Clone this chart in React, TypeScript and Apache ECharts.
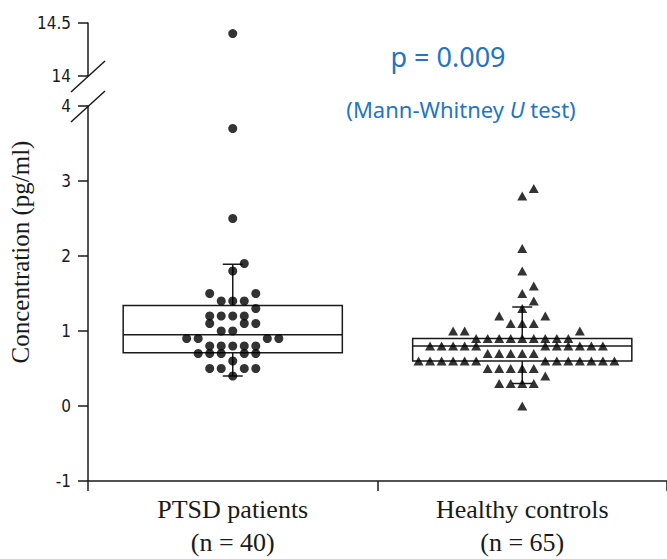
import React, { useEffect, useRef } from "react";
import * as echarts from "echarts";

// ---- data ----
const categories = ["PTSD patients", "Healthy controls"];
const groupSizes = ["(n = 40)", "(n = 65)"];

const ptsdValues = [
  14.4, 3.7, 2.5, 1.9, 1.8,
  1.5, 1.5,
  1.4, 1.4, 1.4,
  1.3,
  1.2, 1.2, 1.2, 1.2,
  1.1, 1.1, 1.1,
  1.0, 1.0,
  0.9, 0.9, 0.9, 0.9,
  0.8, 0.8, 0.8, 0.8, 0.8,
  0.7, 0.7, 0.7, 0.7, 0.7,
  0.6,
  0.5, 0.5, 0.5, 0.5,
  0.4,
];

const healthyValues = [
  2.9, 2.8, 2.1, 1.8, 1.6, 1.5, 1.4, 1.3,
  1.2, 1.2,
  1.1, 1.1, 1.1,
  1.0, 1.0, 1.0,
  0.9, 0.9, 0.9, 0.9, 0.9, 0.9, 0.9, 0.9, 0.9,
  0.8, 0.8, 0.8, 0.8, 0.8, 0.8, 0.8, 0.8, 0.8, 0.8, 0.8,
  0.7, 0.7, 0.7, 0.7, 0.7,
  0.6, 0.6, 0.6, 0.6, 0.6, 0.6, 0.6, 0.6, 0.6, 0.6, 0.6, 0.6, 0.6,
  0.5, 0.5, 0.5, 0.5, 0.5,
  0.4,
  0.3, 0.3, 0.3, 0.3,
  0.0,
];

// [lower whisker, Q1, median, Q3, upper whisker]
const ptsdBox = [0.4, 0.71, 0.95, 1.34, 1.89];
const healthyBox = [0.3, 0.6, 0.8, 0.9, 1.32];

const lowerTicks = { min: -1, max: 4, interval: 1 };
const upperTicks = { min: 14, max: 14.5, interval: 0.5 };
const pText = "p = 0.009";
const testText = "(Mann-Whitney {i|U} test)";
const yName = "Concentration (pg/ml)";

// ---- layout / style constants ----
const SLOT_W = 0.0398; // horizontal dot spacing in category units
const BOX_FRAC = 0.757;
const CAP_PX = 10;
const INK = "#1a1a1a";
const BLUE = "#2375C2";
const BREAK = lowerTicks.max;

// beeswarm-like placement of dots into rows of 0.1
function swarm(values: number[], cat: number): number[][] {
  const rows = new Map<number, number[]>();
  values.forEach((v) => {
    const k = Math.round(v * 10);
    if (!rows.has(k)) rows.set(k, []);
    rows.get(k)!.push(v);
  });
  const keys = Array.from(rows.keys()).sort((a, b) => a - b);
  const used = new Map<number, number[]>();
  const out: number[][] = [];
  const orderL = [0];
  const orderR = [0];
  for (let i = 1; i < 60; i++) {
    orderL.push(-i, i);
    orderR.push(i, -i);
  }
  for (const k of keys) {
    const vs = rows.get(k)!;
    const n = vs.length;
    const below = new Set(used.get(k - 1) || []);
    const greedy: number[] = [];
    for (const s of n === 1 ? orderR : orderL) {
      if (greedy.length === n) break;
      if (!below.has(s)) greedy.push(s);
    }
    greedy.sort((a, b) => a - b);
    const splits: number[] = [];
    for (let i = 1; i < greedy.length; i++) if (greedy[i] - greedy[i - 1] > 1) splits.push(i);
    let ok = splits.length === 0;
    if (splits.length === 1) {
      const j = splits[0];
      ok = greedy[j - 1] < 0 && greedy[j] > 0;
    }
    const centered = Array.from({ length: n }, (_, i) => i - Math.floor(n / 2));
    const slots = ok ? greedy : centered;
    used.set(k, slots);
    slots.forEach((s, i) => out.push([cat + 0.5 + s * SLOT_W, vs[i]]));
  }
  return out;
}

const ptsdPts = swarm(ptsdValues, 0);
const healthyPts = swarm(healthyValues, 1);

export default function App() {
  const ref = useRef<HTMLDivElement>(null);
  useEffect(() => {
    if (!ref.current) return;
    const chart = echarts.init(ref.current, null, { renderer: "svg" });
    const tickFont = {
      fontFamily: "'Liberation Sans Narrow', 'Arial Narrow', 'DejaVu Sans Condensed', 'Liberation Sans', sans-serif",
      fontSize: 17,
      color: INK,
    };
    const lineStyle = { color: INK, width: 1.5 };
    const gridBase = { left: 88, right: -7 };
    const option: any = {
      animation: false,
      grid: [
        { ...gridBase, top: 106, bottom: 78 },
        { ...gridBase, top: 23, bottom: 483 },
        { ...gridBase, top: 23, bottom: 78 },
      ],
      xAxis: [
        {
          gridIndex: 0,
          type: "value",
          min: 0,
          max: 2,
          splitLine: { show: false },
          axisLine: { show: true, onZero: false, lineStyle },
          axisTick: { show: true, customValues: [0, 1, 2], length: 10, lineStyle },
          axisLabel: {
            customValues: [0.5, 1.5],
            margin: 12,
            formatter: (v: number) => {
              const i = Math.floor(v);
              return categories[i] + "\n" + groupSizes[i];
            },
            fontFamily: "'Liberation Serif', 'Times New Roman', serif",
            fontSize: 26,
            lineHeight: 33,
            color: INK,
          },
        },
        { gridIndex: 1, type: "value", min: 0, max: 2, show: false },
        { gridIndex: 2, type: "value", min: 0, max: 2, show: false },
      ],
      yAxis: [
        {
          gridIndex: 0,
          type: "value",
          ...lowerTicks,
          splitLine: { show: false },
          axisLine: { show: true, onZero: false, lineStyle },
          axisTick: { show: true, length: 10, lineStyle },
          axisLabel: { ...tickFont, margin: 17 },
        },
        {
          gridIndex: 1,
          type: "value",
          ...upperTicks,
          splitLine: { show: false },
          axisLine: { show: true, onZero: false, lineStyle },
          axisTick: { show: true, length: 10, lineStyle },
          axisLabel: { ...tickFont, margin: 17 },
        },
        {
          gridIndex: 2,
          type: "value",
          min: 0,
          max: 1,
          splitLine: { show: false },
          axisLine: { show: false },
          axisTick: { show: false },
          axisLabel: { show: false },
          name: yName,
          nameLocation: "middle",
          nameGap: 58,
          nameTextStyle: {
            fontFamily: "'Liberation Serif', 'Times New Roman', serif",
            fontSize: 25,
            color: INK,
          },
        },
      ],
      series: [
        {
          type: "custom",
          xAxisIndex: 0,
          yAxisIndex: 0,
          z: 1,
          data: [
            [0, ...ptsdBox],
            [1, ...healthyBox],
          ],
          renderItem: (params: any, api: any) => {
            const c = api.value(0) + 0.5;
            const mn = api.value(1), q1 = api.value(2), md = api.value(3), q3 = api.value(4), mx = api.value(5);
            const band = api.size([1, 0])[0];
            const hw = (band * BOX_FRAC) / 2;
            const [cx, yMin] = api.coord([c, mn]);
            const yQ1 = api.coord([c, q1])[1];
            const yMd = api.coord([c, md])[1];
            const yQ3 = api.coord([c, q3])[1];
            const yMax = api.coord([c, mx])[1];
            const st = { stroke: INK, lineWidth: 1.5, fill: "none" };
            const ln = (x1: number, y1: number, x2: number, y2: number) => ({
              type: "line",
              shape: { x1, y1, x2, y2 },
              style: st,
            });
            return {
              type: "group",
              children: [
                { type: "rect", shape: { x: cx - hw, y: yQ3, width: 2 * hw, height: yQ1 - yQ3 }, style: st },
                ln(cx - hw, yMd, cx + hw, yMd),
                ln(cx, yQ3, cx, yMax),
                ln(cx - CAP_PX, yMax, cx + CAP_PX, yMax),
                ln(cx, yQ1, cx, yMin),
                ln(cx - CAP_PX, yMin, cx + CAP_PX, yMin),
              ],
            };
          },
        },
        {
          type: "scatter",
          name: categories[0],
          xAxisIndex: 0,
          yAxisIndex: 0,
          z: 3,
          symbol: "circle",
          symbolSize: 9,
          itemStyle: { color: "#000" },
          data: ptsdPts.filter((p) => p[1] <= BREAK),
        },
        {
          type: "scatter",
          name: categories[0],
          xAxisIndex: 1,
          yAxisIndex: 1,
          z: 3,
          symbol: "circle",
          symbolSize: 9,
          itemStyle: { color: "#000" },
          data: ptsdPts.filter((p) => p[1] > BREAK),
        },
        {
          type: "scatter",
          name: categories[1],
          xAxisIndex: 0,
          yAxisIndex: 0,
          z: 3,
          symbol: "triangle",
          symbolSize: [10, 9],
          itemStyle: { color: "#000" },
          data: healthyPts.filter((p) => p[1] <= BREAK),
        },
      ],
      graphic: [
        { type: "line", shape: { x1: 71, y1: 92, x2: 105, y2: 61 }, style: { stroke: INK, lineWidth: 1.5 } },
        { type: "line", shape: { x1: 71, y1: 122, x2: 105, y2: 91 }, style: { stroke: INK, lineWidth: 1.5 } },
        {
          type: "text",
          x: 448,
          y: 56,
          style: {
            text: pText,
            fill: BLUE,
            fontFamily: "'Noto Sans', 'Open Sans', sans-serif",
            fontSize: 27,
            align: "center",
            verticalAlign: "middle",
          },
        },
        {
          type: "text",
          x: 461,
          y: 109,
          style: {
            text: testText,
            fill: BLUE,
            fontFamily: "'Noto Sans', 'Open Sans', sans-serif",
            fontSize: 22,
            align: "center",
            verticalAlign: "middle",
            rich: {
              i: {
                fontStyle: "italic",
                fontFamily: "'Noto Sans', 'Open Sans', sans-serif",
                fontSize: 22,
                fill: BLUE,
              },
            },
          },
        },
      ],
    };
    chart.setOption(option);
    return () => chart.dispose();
  }, []);
  return (
    <div
      ref={ref}
      style={{ position: "absolute", left: 0, top: 0, width: 667, height: 559, background: "#fff" }}
    />
  );
}
